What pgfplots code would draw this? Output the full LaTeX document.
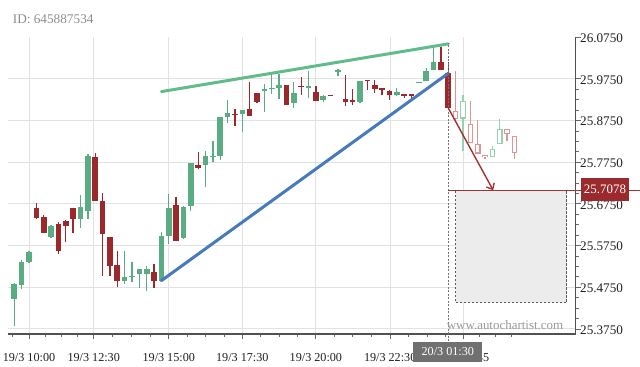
\documentclass[border=0pt]{standalone}
\usepackage{pgfplots}
\pgfplotsset{compat=1.18}
\usepackage{pgfplotstable}
\usepackage{fontspec}
\setmainfont{Liberation Serif}
\usetikzlibrary{arrows.meta}

\definecolor{cgreen}{RGB}{90,172,130}
\definecolor{cred}{RGB}{155,40,42}
\definecolor{fgreen}{RGB}{150,210,176}
\definecolor{fred}{RGB}{220,150,150}
\definecolor{tgreen}{RGB}{98,188,138}
\definecolor{tblue}{RGB}{70,122,190}
\definecolor{arrowred}{RGB}{165,50,50}
\definecolor{boxred}{RGB}{155,42,45}
\definecolor{gridc}{RGB}{226,226,226}
\definecolor{zonec}{RGB}{236,236,236}

% candles: x = bar index (15 min bars), o h l c
\pgfplotstableread{
x o h l c
0 25.4477 25.4844 25.3829 25.4837
1 25.4813 25.5413 25.4717 25.5348
2 25.5348 25.5629 25.5341 25.5605
5 25.5965 25.6253 25.5941 25.6212
9 25.6380 25.6966 25.6174 25.6685
10 25.6572 25.7950 25.6390 25.7909
15 25.4909 25.5629 25.4837 25.4988
16 25.4988 25.5365 25.4885 25.5022
17 25.5065 25.5197 25.4741 25.5190
18 25.5077 25.5269 25.4669 25.5197
20 25.4909 25.6068 25.4909 25.5989
21 25.5989 25.6997 25.5790 25.6661
23 25.5929 25.6709 25.5917 25.6685
24 25.6697 25.7724 25.6589 25.7724
26 25.7693 25.8029 25.7165 25.7909
27 25.7873 25.8269 25.7753 25.7909
28 25.7909 25.8845 25.7813 25.8828
29 25.8845 25.9236 25.8701 25.8924
31 25.8910 25.9013 25.8468 25.9001
34 25.9457 25.9637 25.8948 25.9510
35 25.9510 25.9860 25.9397 25.9541
36 25.9534 25.9877 25.9270 25.9596
38 25.9164 25.9673 25.9061 25.9404
40 25.9529 25.9942 25.9289 25.9570
42 25.9236 25.9373 25.9193 25.9342
44 25.9920 25.9980 25.9810 25.9956
47 25.9205 25.9709 25.9181 25.9692
52 25.9366 25.9529 25.9349 25.9445
55 25.9654 25.9678 25.9654 25.9678
56 25.9709 26.0009 25.9709 25.9949
57 25.9956 26.0525 25.9956 26.0165
}\greentab

\pgfplotstableread{
x o h l c
3 25.6654 25.6781 25.6390 25.6414
4 25.6438 25.6493 25.6044 25.6054
6 25.6270 25.6308 25.5550 25.5612
7 25.6342 25.6373 25.5828 25.6229
8 25.6654 25.6654 25.6044 25.6390
11 25.7868 25.7964 25.6822 25.6822
12 25.6812 25.7014 25.5029 25.6030
13 25.5948 25.5965 25.5029 25.5262
14 25.5286 25.5629 25.4748 25.4892
19 25.5108 25.5317 25.4741 25.4909
22 25.6733 25.6908 25.5857 25.5857
25 25.7688 25.7998 25.7580 25.7621
30 25.8910 25.9037 25.8629 25.8881
32 25.9020 25.9668 25.8869 25.8869
33 25.9409 25.9409 25.9181 25.9193
37 25.9606 25.9613 25.9128 25.9128
39 25.9589 25.9788 25.9368 25.9558
41 25.9428 25.9589 25.9217 25.9229
43 25.9373 25.9373 25.9332 25.9342
45 25.9270 25.9841 25.9109 25.9188
46 25.9236 25.9500 25.9126 25.9200
48 25.9716 25.9716 25.9493 25.9692
49 25.9601 25.9728 25.9416 25.9510
50 25.9529 25.9529 25.9373 25.9476
51 25.9469 25.9493 25.9246 25.9368
53 25.9378 25.9378 25.9301 25.9330
54 25.9378 25.9378 25.9277 25.9330
58 26.0148 26.0518 25.9966 25.9966
59 25.9901 26.0153 25.9049 25.9049
}\redtab

\pgfplotstableread{
x o h l c
61 25.8797 25.9361 25.8029 25.9222
65 25.7868 25.8149 25.7868 25.8070
66 25.8190 25.8790 25.8190 25.8550
}\fgreentab

\pgfplotstableread{
x o h l c
60 25.8989 25.9949 25.8749 25.8790
62 25.8670 25.9229 25.8204 25.8204
63 25.8190 25.8766 25.7950 25.7957
64 25.7933 25.7933 25.7837 25.7868
67 25.8550 25.8550 25.8269 25.8430
68 25.8377 25.8377 25.7830 25.7964
}\fredtab

\pgfplotsset{
  cwick/.style={only marks, mark=*, mark size=0pt, mark options={draw=none, fill=none},
    error bars/.cd, y dir=plus, y explicit, error mark=none,
    error bar style={draw=#1, line width=1.3bp, solid}},
  cbody/.style 2 args={only marks, mark=*, mark size=0pt, mark options={draw=none, fill=none},
    error bars/.cd, y dir=plus, y explicit, error mark=none,
    error bar style={draw=#1, line width=#2, solid}},
}

\begin{document}
\begin{tikzpicture}
\useasboundingbox (0,0) rectangle (640bp,367bp);
\begin{axis}[
  at={(8bp,33bp)}, anchor=south west,
  scale only axis, width=567.7bp, height=297bp,
  xmin=-0.856, xmax=76.32, ymin=25.3628, ymax=26.0755,
  clip=false,
  axis x line*=bottom, axis y line*=right,
  axis line style={-, draw=black!68, line width=1.5bp},
  tick align=outside,
  major tick length=5bp, minor tick length=3bp,
  every tick/.style={draw=black!60, line width=0.8bp},
  xtick={2,10.8,21,31,41,51.1,61},
  xticklabels={19/3 10:00,19/3 12:30,19/3 15:00,19/3 17:30,19/3 20:00,19/3 22:30,20/3 01:45},
  minor xtick={-0.2,4.2,6.4,8.6,13.35,15.9,18.45,23.5,26,28.5,33.5,36,38.5,43.5,46,48.5,53.6,56.1,58.6,63.2,65.4,67.6},
  ytick={25.375,25.475,25.575,25.675,25.775,25.875,25.975},
  extra y ticks={26.075}, extra y tick style={grid=none},
  minor y tick num=3,
  xmajorgrids, ymajorgrids,
  major grid style={draw=gridc, line width=1bp},
  /pgf/number format/assume math mode=true,
  tick label style={text=black!88},
  xticklabel style={font=\fontsize{12.2}{14}\selectfont, yshift=-10.5bp},
  yticklabel style={font=\fontsize{13.2}{15}\selectfont, xshift=-4bp, yshift=-1bp,
    /pgf/number format/.cd, fixed, fixed zerofill, precision=4},
]
% target zone
\addplot[fill=zonec, draw=black!65, line width=0.9bp, dash pattern=on 2.5bp off 1.5bp]
  coordinates {(60,25.7078) (75.1,25.7078) (75.1,25.438) (60,25.438) (60,25.7078)};
% pattern trend lines
\addplot[tgreen, line width=3bp, line cap=round] coordinates {(20,25.9445) (59,26.059)};
% solid candles
\addplot[cwick=cgreen] table[x=x, y=l, y error plus expr=\thisrow{h}-\thisrow{l}] {\greentab};
\addplot[cbody={cgreen}{5.6bp}] table[x=x, y expr={min(\thisrow{o},\thisrow{c})}, y error plus expr={max(abs(\thisrow{c}-\thisrow{o}),0.003)}] {\greentab};
\addplot[cwick=cred] table[x=x, y=l, y error plus expr=\thisrow{h}-\thisrow{l}] {\redtab};
\addplot[cbody={cred}{5.6bp}] table[x=x, y expr={min(\thisrow{o},\thisrow{c})}, y error plus expr={max(abs(\thisrow{c}-\thisrow{o}),0.003)}] {\redtab};
% projected (faded, hollow) candles
\addplot[cwick=fgreen] table[x=x, y=l, y error plus expr=\thisrow{h}-\thisrow{l}] {\fgreentab};
\addplot[cbody={fgreen}{5.6bp}] table[x=x, y expr={min(\thisrow{o},\thisrow{c})}, y error plus expr={max(abs(\thisrow{c}-\thisrow{o}),0.003)}] {\fgreentab};
\addplot[cbody={white}{3.4bp}] table[x=x, y expr={min(\thisrow{o},\thisrow{c})+0.0027}, y error plus expr={max(abs(\thisrow{c}-\thisrow{o})-0.0054,0)}] {\fgreentab};
\addplot[cwick=fred] table[x=x, y=l, y error plus expr=\thisrow{h}-\thisrow{l}] {\fredtab};
\addplot[cbody={fred}{5.6bp}] table[x=x, y expr={min(\thisrow{o},\thisrow{c})}, y error plus expr={max(abs(\thisrow{c}-\thisrow{o}),0.003)}] {\fredtab};
\addplot[cbody={white}{3.4bp}] table[x=x, y expr={min(\thisrow{o},\thisrow{c})+0.0027}, y error plus expr={max(abs(\thisrow{c}-\thisrow{o})-0.0054,0)}] {\fredtab};
\addplot[tblue, line width=3bp, line cap=round] coordinates {(20,25.4909) (59,25.9884)};
% breakout marker, forecast arrow and target level
\addplot[black!55, line width=1.5bp, dash pattern=on 2bp off 1.5bp] coordinates {(59,25.320) (59,26.06)};
\addplot[arrowred, line width=1.3bp] coordinates {(59,25.7078) (85.1,25.7078)};
\addplot[arrowred, line width=1.4bp, -{Straight Barb[length=5bp,width=9bp]}] coordinates {(59,25.9049) (65.1,25.7078)};
\end{axis}
\node[fill=boxred, text=white, inner sep=0, minimum width=48.6bp, minimum height=22.7bp,
  font=\fontsize{13}{15}\selectfont] at (605bp,177.4bp) {25.7078};
\node[fill=black!56, text=white, inner sep=0, minimum width=69bp, minimum height=20.5bp,
  font=\fontsize{12.2}{14}\selectfont] at (447.8bp,15.1bp) {20/3 01:30};
\node[anchor=base west, inner sep=0, text=black!45, font=\fontsize{13.3}{15}\selectfont]
  at (12.7bp,343bp) {ID: 645887534};
\node[anchor=base, inner sep=0, text=black!40, font=\fontsize{13}{15}\selectfont]
  at (505bp,37.5bp) {www.autochartist.com};
\end{tikzpicture}
\end{document}
